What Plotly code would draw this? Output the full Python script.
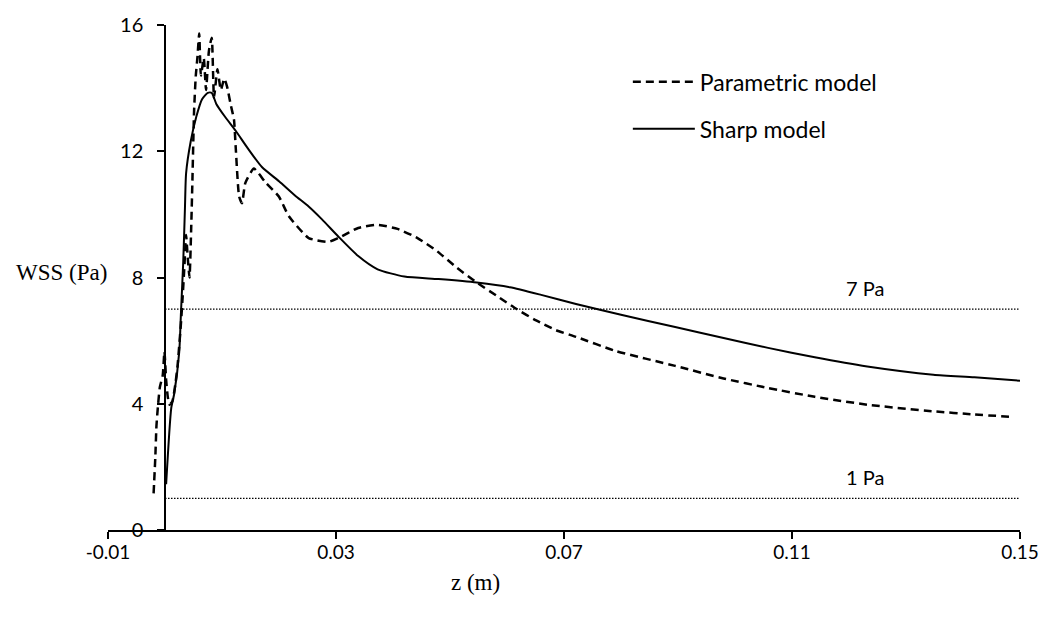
import plotly.graph_objects as go

# Axial position z (m) and wall shear stress (Pa) for the two wall models
parametric_z = [-0.0020, -0.0017, -0.0015, -0.0012, -0.0009, -0.0004, -0.0001, 0.0002,
                0.0005, 0.0008, 0.0013, 0.0018, 0.0022, 0.0028, 0.0031, 0.0034, 0.0037,
                0.0040, 0.0043, 0.0046, 0.0048, 0.0051, 0.0054, 0.0057, 0.0060, 0.0063,
                0.0068, 0.0072, 0.0077, 0.0082, 0.0086, 0.0092, 0.0098, 0.0104, 0.0109,
                0.0115, 0.0121, 0.0124, 0.0130, 0.0135, 0.0141, 0.0156, 0.0176, 0.0200,
                0.0217, 0.0252, 0.0287, 0.0304, 0.0339, 0.0373, 0.0408, 0.0443, 0.0477,
                0.0512, 0.0547, 0.0582, 0.0617, 0.0651, 0.0686, 0.0721, 0.0791, 0.0895,
                0.0980, 0.1058, 0.1140, 0.1232, 0.1348, 0.1420, 0.1490]
parametric_wss = [1.16, 2.3, 3.3, 4.0, 4.53, 4.9, 5.65, 4.75,
                  4.2, 3.97, 4.08, 4.6, 5.2, 6.55, 7.4, 8.34, 9.35,
                  8.6, 8.0, 9.6, 11.0, 13.27, 14.39, 15.0, 15.73, 14.4,
                  14.95, 13.94, 15.17, 15.6, 13.7, 14.6, 13.94, 14.3, 14.04,
                  13.5, 13.0, 12.14, 10.57, 10.35, 11.0, 11.45, 11.02, 10.56,
                  9.95, 9.25, 9.13, 9.25, 9.57, 9.67, 9.54, 9.25, 8.84,
                  8.31, 7.84, 7.42, 7.0, 6.64, 6.33, 6.12, 5.67, 5.2,
                  4.8, 4.5, 4.22, 3.97, 3.76, 3.66, 3.58]

sharp_z = [0.0002, 0.0011, 0.0016, 0.0025, 0.0028, 0.0032, 0.0035, 0.0037, 0.0045,
           0.0055, 0.0065, 0.0075, 0.0082, 0.0090, 0.0105, 0.0124, 0.0145, 0.0170,
           0.0200, 0.0228, 0.0252, 0.0275, 0.0304, 0.0339, 0.0373, 0.0420, 0.0480,
           0.0547, 0.0605, 0.0660, 0.0721, 0.0800, 0.0895, 0.0980, 0.1058, 0.1140,
           0.1232, 0.1348, 0.1420, 0.1500]
sharp_wss = [1.45, 3.87, 4.3, 5.65, 6.88, 8.5, 10.2, 11.3, 12.3,
             13.1, 13.65, 13.85, 13.85, 13.5, 13.1, 12.65, 12.1, 11.5,
             11.05, 10.6, 10.25, 9.85, 9.3, 8.68, 8.26, 8.03, 7.95,
             7.84, 7.69, 7.45, 7.16, 6.82, 6.43, 6.08, 5.77, 5.47,
             5.18, 4.92, 4.84, 4.73]

# Reference WSS thresholds
threshold_values = [7, 1]
threshold_labels = ["7 Pa", "1 Pa"]
threshold_z_range = [0.0, 0.15]
threshold_label_z = 0.1228

x_ticks = [-0.01, 0.03, 0.07, 0.11, 0.15]
x_tick_text = ["-0.01", "0.03", "0.07", "0.11", "0.15"]
y_ticks = [0, 4, 8, 12, 16]
x_range = [-0.01, 0.15]
y_range = [0, 16]

SANS = "Lato"
SERIF = "Liberation Serif"

fig = go.Figure()

fig.add_trace(go.Scatter(
    x=parametric_z, y=parametric_wss, mode="lines", name="Parametric model",
    line=dict(color="black", width=2.5, dash="8px,5px", shape="spline", smoothing=0.5),
    legendgroup="a",
))
fig.add_trace(go.Scatter(
    x=sharp_z, y=sharp_wss, mode="lines", name="Sharp model",
    line=dict(color="black", width=2, shape="spline", smoothing=0.6),
    legendgroup="b",
))

for val, lab in zip(threshold_values, threshold_labels):
    fig.add_trace(go.Scatter(
        x=threshold_z_range, y=[val, val], mode="lines", showlegend=False,
        line=dict(color="black", width=1.3, dash="1.5px,1.5px"), hoverinfo="skip",
    ))
    fig.add_annotation(x=threshold_label_z, y=val, text=lab, showarrow=False,
                       xanchor="center", yanchor="bottom", yshift=7,
                       font=dict(family=SANS, size=20, color="black"))

# y axis crosses the x axis at z = 0
y_axis_pos = (0 - x_range[0]) / (x_range[1] - x_range[0])

fig.update_layout(
    width=1051, height=619,
    margin=dict(l=108, r=24, t=20, b=89),
    paper_bgcolor="white", plot_bgcolor="white",
    font=dict(family=SANS, size=20, color="black"),
    xaxis=dict(range=x_range, tickvals=x_ticks, ticktext=x_tick_text,
               showgrid=False, zeroline=False, showline=True, linecolor="black",
               linewidth=1.5, ticks="outside", ticklen=7, tickwidth=1.5,
               tickcolor="black", ticklabelstandoff=-3,
               tickfont=dict(family=SANS, size=19)),
    yaxis=dict(range=y_range, tickvals=y_ticks, showgrid=False, zeroline=False,
               showline=True, linecolor="black", linewidth=1.5, ticks="outside",
               ticklen=7, tickwidth=1.5, tickcolor="black", anchor="free",
               position=y_axis_pos, ticklabelstandoff=10,
               tickfont=dict(family=SANS, size=20)),
    legend=dict(x=0.57, y=0.93, xanchor="left", yanchor="top",
                bgcolor="rgba(0,0,0,0)", font=dict(family=SANS, size=23),
                tracegroupgap=14, itemwidth=62),
    showlegend=True,
)

fig.add_annotation(xref="paper", yref="paper", x=-0.051, y=0.51, text="WSS (Pa)",
                   showarrow=False, xanchor="center", yanchor="middle",
                   font=dict(family=SERIF, size=23, color="black"))
fig.add_annotation(xref="paper", yref="paper", x=0.4026, y=-0.104, text="z (m)",
                   showarrow=False, xanchor="center", yanchor="middle",
                   font=dict(family=SERIF, size=23, color="black"))

fig.write_html("out.html")
